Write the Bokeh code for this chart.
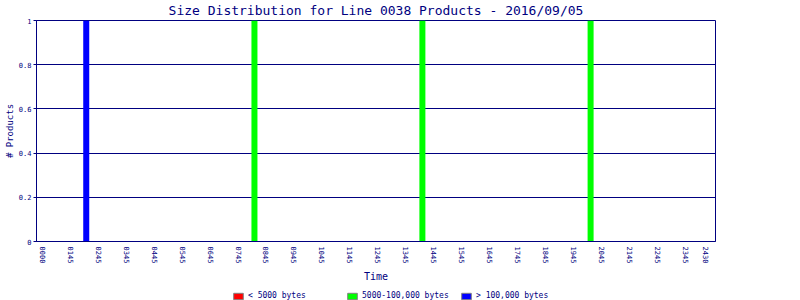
from bokeh.plotting import figure
from bokeh.layouts import column
from bokeh.models import Range1d, FixedTicker, Legend, LegendItem, ColumnDataSource
from bokeh.embed import file_html
from bokeh.resources import INLINE

# ---- data ----
tick_labels = ["0000", "0145", "0245", "0345", "0445", "0545", "0645", "0745",
               "0845", "0945", "1045", "1145", "1245", "1345", "1445", "1545",
               "1645", "1745", "1845", "1945", "2045", "2145", "2245", "2345", "2430"]
tick_pos = list(range(24)) + [23.72]
bar_x = [1.55, 7.57, 13.58, 19.60]
small = [0, 0, 0, 0]
medium = [0, 1, 1, 1]
large = [1, 0, 0, 0]
series = ["small", "medium", "large"]
series_labels = ["< 5000 bytes", "5000-100,000 bytes", "> 100,000 bytes"]
colors = ["#ff0000", "#00ff00", "#0000ff"]

NAVY = "#000080"
FONT = "DejaVu Sans Mono"

src = ColumnDataSource(dict(x=bar_x, small=small, medium=medium, large=large))

p = figure(width=800, height=285, output_backend="svg", toolbar_location=None,
           x_range=Range1d(-0.23, 24.07), y_range=Range1d(0, 1),
           min_border_left=36, min_border_right=85, min_border_top=20, min_border_bottom=43,
           title="Size Distribution for Line 0038 Products - 2016/09/05")

p.vbar_stack(series, x="x", width=0.215, source=src, color=colors, line_color=None)

p.title.align = "center"
p.title.vertical_align = "top"
p.title.text_font = FONT
p.title.text_font_size = "13px"
p.title.text_font_style = "normal"
p.title.text_color = NAVY
p.title.standoff = 1
p.title.offset = 0

p.outline_line_color = NAVY
p.outline_line_width = 1
p.background_fill_color = "white"
p.border_fill_color = "white"

p.xgrid.grid_line_color = None
p.ygrid.grid_line_color = NAVY
p.ygrid.ticker = FixedTicker(ticks=[0.2, 0.4, 0.6, 0.8])

xa = p.xaxis[0]
xa.ticker = FixedTicker(ticks=tick_pos)
xa.major_label_overrides = {t: l for t, l in zip(tick_pos, tick_labels)}
xa.major_label_orientation = "vertical"
xa.major_tick_out = 0
xa.major_tick_in = 0
xa.minor_tick_out = 0
xa.minor_tick_in = 0
xa.major_label_standoff = 5
xa.major_label_text_font = FONT
xa.major_label_text_font_size = "7px"
xa.major_label_text_color = NAVY
xa.axis_line_color = NAVY
xa.axis_label = "Time"
xa.axis_label_text_font = FONT
xa.axis_label_text_font_size = "10px"
xa.axis_label_text_font_style = "normal"
xa.axis_label_text_color = NAVY
xa.axis_label_standoff = 5

ya = p.yaxis[0]
yt = [0, 0.2, 0.4, 0.6, 0.8, 1]
ya.ticker = FixedTicker(ticks=yt)
ya.major_label_overrides = {0: "0", 0.2: "0.2", 0.4: "0.4", 0.6: "0.6", 0.8: "0.8", 1: "1"}
ya.major_tick_out = 3
ya.major_tick_in = 0
ya.minor_tick_out = 0
ya.minor_tick_in = 0
ya.major_tick_line_color = NAVY
ya.major_label_standoff = 2
ya.major_label_text_font = FONT
ya.major_label_text_font_size = "7px"
ya.major_label_text_color = NAVY
ya.axis_line_color = NAVY
ya.axis_label = "# Products"
ya.axis_label_text_font = FONT
ya.axis_label_text_font_size = "9px"
ya.axis_label_text_font_style = "normal"
ya.axis_label_text_color = NAVY
ya.axis_label_standoff = 1

# ---- legend strip (proxy renderers kept out of view) ----
q = figure(width=800, height=15, output_backend="svg", toolbar_location=None,
           x_axis_type=None, y_axis_type=None, min_border=0,
           x_range=Range1d(-0.23, 24.07), y_range=Range1d(5, 6))
q.outline_line_color = None
q.xgrid.grid_line_color = None
q.ygrid.grid_line_color = None
items = []
for s, lab, c in zip(series, series_labels, colors):
    r = q.vbar(x="x", top=s, width=0.215, source=src, fill_color=c, line_color="#808080")
    items.append(LegendItem(label=lab, renderers=[r], index=0))
leg = Legend(items=items, orientation="horizontal", location=(196, 0),
             glyph_width=12, glyph_height=8, label_standoff=4, label_width=90, spacing=8,
             padding=0, margin=0, border_line_color=None, background_fill_alpha=0,
             label_text_font=FONT, label_text_font_size="8px", label_text_color=NAVY,
             label_height=9)
q.add_layout(leg, "center")

open("out.html", "w").write(file_html(column(p, q, spacing=0), INLINE))
